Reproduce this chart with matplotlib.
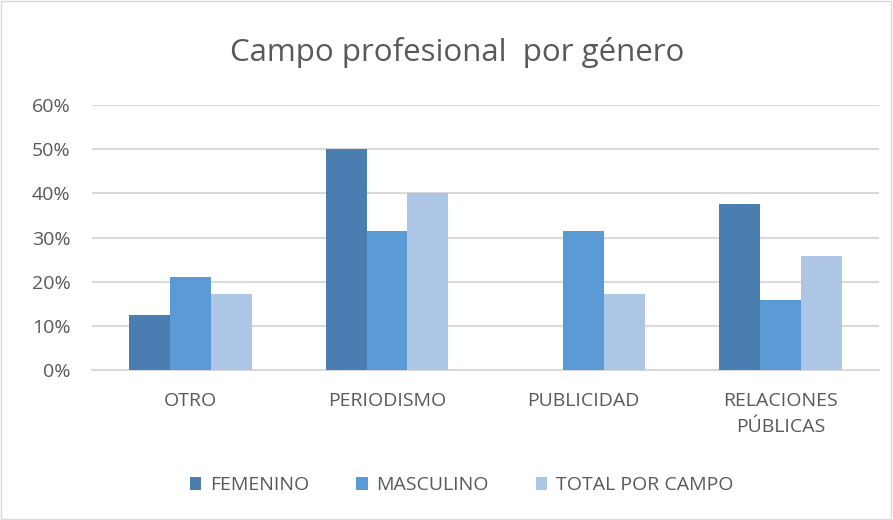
import matplotlib.pyplot as plt
import numpy as np
from matplotlib.patches import Rectangle
from matplotlib.ticker import PercentFormatter

# data
categories = ['OTRO', 'PERIODISMO', 'PUBLICIDAD', 'RELACIONES\nPÚBLICAS']
femenino = [0.125, 0.50, 0.0, 0.375]
masculino = [0.2105, 0.3158, 0.3158, 0.1579]
total_campo = [0.1714, 0.40, 0.1714, 0.2571]
series_names = ['FEMENINO', 'MASCULINO', 'TOTAL POR CAMPO']
colors = ['#4a7eb0', '#5b9bd5', '#adc6e5']
yticks = [0, 0.1, 0.2, 0.3, 0.4, 0.5, 0.6]

plt.rcParams['font.family'] = ['Open Sans', 'DejaVu Sans']
txt = '#595959'

fig = plt.figure(figsize=(8.93, 5.20), dpi=100)
ax = fig.add_axes([0.103, 0.2885, 0.881, 0.5095])

x = np.arange(len(categories))
w = 0.208
for i, (vals, name) in enumerate(zip([femenino, masculino, total_campo], series_names)):
    ax.bar(x + (i - 1) * w, vals, w, color=colors[i], label=name, zorder=3)

ax.set_xlim(-0.5, 3.5)
ax.set_ylim(0, 0.6)
ax.set_yticks(yticks)
ax.yaxis.set_major_formatter(PercentFormatter(1.0, decimals=0))
ax.set_xticks(x)
ax.set_xticklabels(categories, linespacing=1.55)
ax.grid(axis='y', color='#d9d9d9', linewidth=1.5, zorder=0)
for s in ['top', 'right', 'left']:
    ax.spines[s].set_visible(False)
ax.spines['bottom'].set_color('#d9d9d9')
ax.spines['bottom'].set_linewidth(1.5)
ax.tick_params(length=0, labelsize=14, colors=txt)
ax.tick_params(axis='y', pad=15.5)
ax.tick_params(axis='x', pad=16)

fig.suptitle('Campo profesional  por género', x=0.512, y=0.928, fontsize=22.5,
             color=txt)

ax.legend(loc='center', bbox_to_anchor=(0.47, -0.435), ncol=3, frameon=False,
          fontsize=14, labelcolor=txt, handlelength=0.6, handleheight=0.6,
          columnspacing=2.4, handletextpad=0.45)

fig.patches.append(Rectangle((0.001, 0.001), 0.997, 0.997, transform=fig.transFigure,
                             fill=False, edgecolor='#d9d9d9', linewidth=1))

fig.savefig('out.png', dpi=100)
